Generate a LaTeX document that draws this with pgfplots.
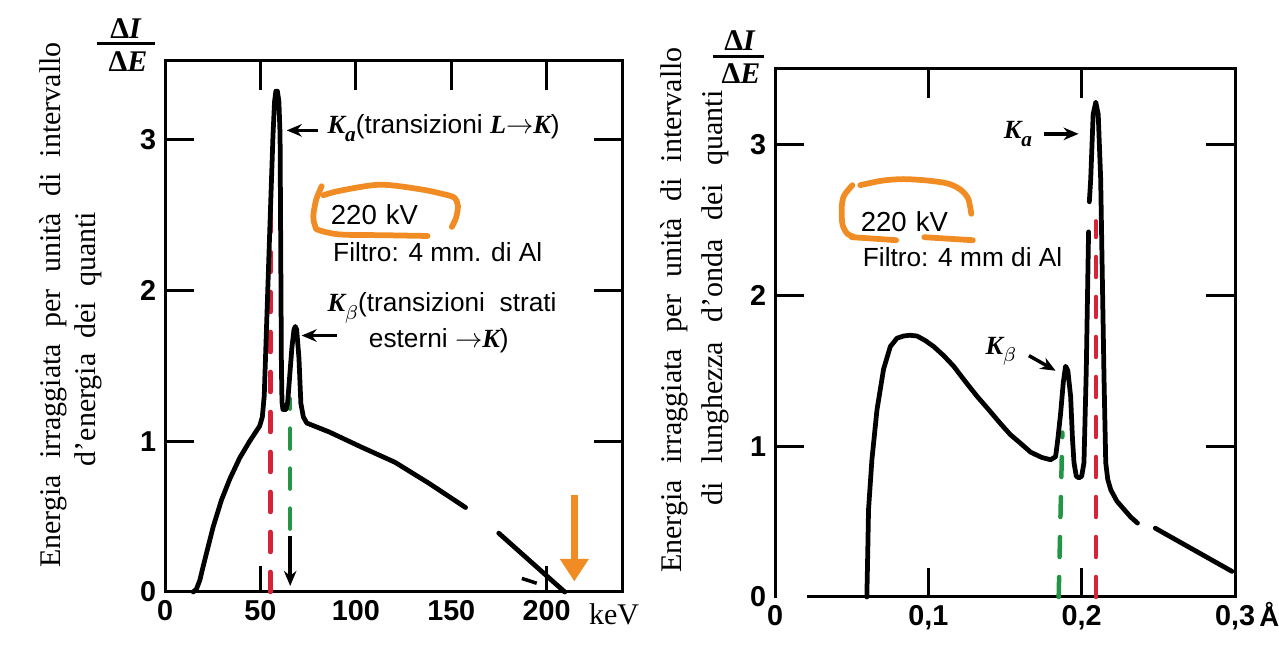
\documentclass[border=0pt]{standalone}
\usepackage{fontspec}
\setmainfont{Liberation Serif}
\newfontfamily\hv{Liberation Sans}
\usepackage{pgfplots}
\pgfplotsset{compat=1.18}
\usetikzlibrary{arrows.meta}
\definecolor{myred}{RGB}{215,35,55}
\definecolor{mygreen}{RGB}{35,150,70}
\definecolor{myorange}{RGB}{240,140,35}
\newcommand{\ann}{\hv\fontsize{10.5}{12}\selectfont}
\newcommand{\KK}[1]{{\rmfamily\bfseries\itshape K}\raisebox{-0.55ex}{\rmfamily\fontsize{8.5}{9}\selectfont\bfseries\itshape #1}}
\pgfplotsset{
  common/.style={
    scale only axis, clip=false, ymin=0,
    axis line style={line width=1.2pt},
    major tick style={line width=1.2pt, black},
    major tick length=11.5pt, tick align=inside,
    ticklabel style={font=\hv\bfseries\fontsize{11.5}{13}\selectfont},
    ytick={0,1,2,3}, yticklabels={0,1,2,3},
  },
  curve/.style={black, line width=1.9pt, line join=round, line cap=round},
  rdash/.style={myred, line width=1.8pt, line cap=round, dash pattern=on 8pt off 8pt},
  gdash/.style={mygreen, line width=1.8pt, line cap=round, dash pattern=on 8pt off 8pt},
  orng/.style={myorange, line width=2.3pt, smooth, line cap=round},
}
\begin{document}
\begin{tikzpicture}
\useasboundingbox (0,0) rectangle (511.6pt,-258.4pt);
% ---------------- left panel ----------------
\begin{axis}[common, at={(66pt,-236.8pt)}, anchor=south west,
  width=183.2pt, height=212.4pt,
  xmin=0, xmax=240, ymax=3.52,
  xtick={0,50,100,150,200}, xticklabels={0,50,100,150,200},
  xtick pos=right, xticklabel pos=left]
\draw[line width=1.2pt] (axis cs:50,0) -- ++(0,10.5pt);
\draw[line width=1.2pt] (axis cs:200,0) -- ++(0,10.5pt);
\addplot[rdash] coordinates {(55.2,0) (55.2,2.54)};
\addplot[gdash] coordinates {(65.6,0.42) (65.6,1.28)};
\addplot[black, line width=1.6pt, -{Stealth[length=6pt,width=5pt]}] coordinates {(65.6,0.37) (65.6,0.04)};
\addplot[curve] coordinates {
(14.8,0) (16.5,0.02) (18.3,0.08) (20,0.17) (21.8,0.26) (25.2,0.43) (29.6,0.61)
(34,0.75) (39.2,0.89) (44.4,1.0) (49.6,1.10) (51.0,1.16) (52.0,1.3) (54.8,2.36)
(56.6,3.03) (57.4,3.25) (58.1,3.32) (58.9,3.32) (59.7,3.25) (60.3,3.03) (61.0,1.5)
(61.3,1.26) (61.8,1.21) (63.5,1.21) (64.3,1.26) (66.5,1.62) (67.6,1.74) (68.3,1.76)
(69.0,1.74) (70.2,1.55) (71.2,1.25) (72.5,1.16) (74.3,1.12) (86.2,1.06) (103,0.96)
(120.5,0.86) (138.4,0.72) (157.5,0.56)};
\addplot[curve] coordinates {(174.9,0.39) (209.5,0)};
\addplot[black, line width=1.4pt] coordinates {(187,0.09) (194.8,0.058)};
\addplot[myorange, line width=2.6pt, -{Triangle[length=9pt,width=11pt]}] coordinates {(214.5,0.64) (214.5,0.07)};
\addplot[orng] coordinates {(82.1,2.69) (79.2,2.60) (77.7,2.49) (78.6,2.43) (80.3,2.40) (91.7,2.37) (115,2.365) (137.6,2.36)};
\addplot[orng] coordinates {(83,2.63) (91.7,2.66) (112.7,2.70) (133.6,2.67) (145,2.64) (151.5,2.615) (153.5,2.56) (152.5,2.48) (150.3,2.42)};
\addplot[black, line width=1.4pt, -{Stealth[length=6pt,width=5pt]}] coordinates {(80.3,3.06) (63.8,3.06)};
\addplot[black, line width=1.4pt, -{Stealth[length=6pt,width=5pt]}] coordinates {(90,1.70) (71.6,1.70)};
\node[anchor=base west, inner sep=0pt, font=\ann] at (axis cs:85,3.04) {\KK{a}(transizioni {\rmfamily\bfseries\itshape L}$\rightarrow${\rmfamily\bfseries\itshape K})};
\node[anchor=west, inner sep=0pt, font=\hv\fontsize{11}{13}\selectfont] at (axis cs:86.7,2.50) {220\,\,kV};
\node[anchor=west, inner sep=0pt, font=\ann] at (axis cs:87.9,2.25) {Filtro: 4 mm. di Al};
\node[anchor=base west, inner sep=0pt, font=\ann] at (axis cs:85,1.86) {\KK{\ensuremath{\beta}}(transizioni\ \ strati};
\node[anchor=base west, inner sep=0pt, font=\ann] at (axis cs:106.6,1.62) {esterni $\rightarrow${\rmfamily\bfseries\itshape K})};
\node[anchor=north west, inner sep=0pt, font=\rmfamily\fontsize{12}{14}\selectfont] at ([yshift=-4.6pt]axis cs:222,0) {keV};
\end{axis}
% ---------------- right panel ----------------
\begin{axis}[common, at={(310pt,-238.8pt)}, anchor=south west,
  width=184pt, height=211.2pt,
  xmin=0, xmax=0.3, ymax=3.5,
  xtick={0,0.1,0.2,0.3}, xticklabels={0,{0,1},{0,2},{0,3}}]
\draw[white, line width=2.2pt] (axis cs:0.0015,0) -- (axis cs:0.021,0);
\addplot[rdash] coordinates {(0.2092,0) (0.2092,2.49)};
\addplot[gdash] coordinates {(0.185,0) (0.1874,1.09)};
\addplot[curve] coordinates {
(0.0599,0) (0.0605,0.3) (0.061,0.58) (0.0632,0.91) (0.0665,1.24) (0.0708,1.51)
(0.0752,1.66) (0.0795,1.715) (0.0839,1.73) (0.088,1.735) (0.0926,1.73) (0.0980,1.70)
(0.1035,1.66) (0.1100,1.60) (0.1165,1.53) (0.124,1.43) (0.1318,1.33) (0.1395,1.24)
(0.147,1.15) (0.1536,1.075) (0.160,1.02) (0.1667,0.96) (0.1740,0.925) (0.1797,0.91)
(0.1830,0.93) (0.1845,1.05) (0.1863,1.22) (0.1880,1.42) (0.1895,1.53) (0.1910,1.50)
(0.1928,1.33) (0.1940,1.05) (0.1950,0.89) (0.1965,0.80) (0.1982,0.79) (0.2000,0.80)
(0.2015,0.89) (0.2030,1.5) (0.2045,2.42)};
\addplot[curve] coordinates {
(0.2050,2.62) (0.2059,2.77) (0.2075,3.2) (0.2092,3.28) (0.2108,3.2) (0.2124,2.77)
(0.2146,1.44) (0.2157,0.89) (0.2170,0.78) (0.2190,0.71) (0.2230,0.635) (0.2277,0.58)
(0.2320,0.53) (0.2364,0.49)};
\addplot[curve] coordinates {(0.2480,0.456) (0.298,0.17)};
\addplot[orng] coordinates {(0.0505,2.73) (0.0450,2.66) (0.0435,2.58) (0.0440,2.47) (0.0470,2.41) (0.0510,2.39)};
\addplot[orng] coordinates {(0.0556,2.73) (0.070,2.76) (0.084,2.77) (0.100,2.76) (0.113,2.74) (0.121,2.70) (0.126,2.64) (0.128,2.54)};
\addplot[orng] coordinates {(0.050,2.385) (0.065,2.375) (0.079,2.365)};
\addplot[orng] coordinates {(0.0974,2.385) (0.113,2.375) (0.129,2.365)};
\addplot[black, line width=1.4pt, -{Stealth[length=6pt,width=5pt]}] coordinates {(0.1754,3.07) (0.198,3.07)};
\addplot[black, line width=1.4pt, -{Stealth[length=6pt,width=5pt]}] coordinates {(0.1656,1.60) (0.183,1.50)};
\node[anchor=base west, inner sep=0pt, font=\ann] at (axis cs:0.149,3.04) {\KK{a}};
\node[anchor=base west, inner sep=0pt, font=\ann] at (axis cs:0.137,1.61) {\KK{\ensuremath{\beta}}};
\node[anchor=west, inner sep=0pt, font=\hv\fontsize{11}{13}\selectfont] at (axis cs:0.0556,2.49) {220\,\,kV};
\node[anchor=west, inner sep=0pt, font=\ann] at (axis cs:0.057,2.25) {Filtro: 4 mm di Al};
\node[anchor=base west, inner sep=0pt, font=\hv\bfseries\fontsize{11}{13}\selectfont] at ([yshift=-12pt]axis cs:0.3155,0) {Å};
\end{axis}
% ---------------- outer labels (pixel coordinates) ----------------
\begin{scope}[x=0.4pt, y=-0.4pt]
\begin{scope}[font=\rmfamily\fontsize{12}{14}\selectfont]
\node[rotate=90, inner sep=0pt] at (53,305) {\spaceskip=6.5pt Energia irraggiata per unità di intervallo};
\node[rotate=90, inner sep=0pt] at (88,339) {\spaceskip=6pt d'energia dei quanti};
\node[rotate=90, inner sep=0pt] at (674.6,310) {\spaceskip=6.5pt Energia irraggiata per unità di intervallo};
\node[rotate=90, inner sep=0pt] at (715.4,298) {\spaceskip=7.5pt di lunghezza d'onda dei quanti};
\end{scope}
\begin{scope}[font=\rmfamily\bfseries\fontsize{12}{14}\selectfont]
\node[inner sep=0pt] at (126,29) {Δ\textit{I}};
\draw[line width=1.2pt] (97,44) -- (155,44);
\node[inner sep=0pt] at (128,62) {Δ\textit{E}};
\node[inner sep=0pt] at (740,41) {Δ\textit{I}};
\draw[line width=1.2pt] (713,57) -- (764,57);
\node[inner sep=0pt] at (741,74) {Δ\textit{E}};
\end{scope}
\end{scope}
\end{tikzpicture}
\end{document}
